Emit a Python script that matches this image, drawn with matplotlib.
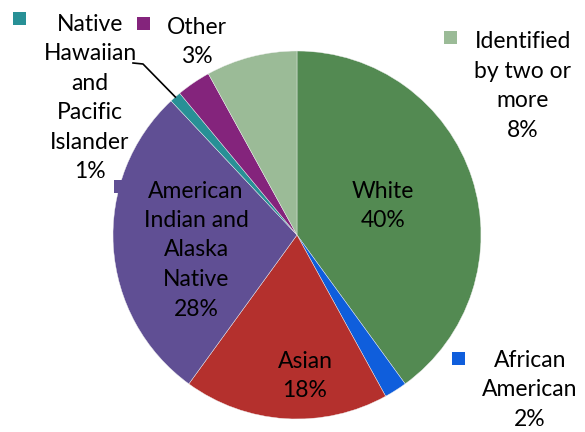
import matplotlib
matplotlib.use("Agg")
import matplotlib.pyplot as plt
import numpy as np

categories = ["White", "African\nAmerican", "Asian", "American\nIndian and\nAlaska\nNative",
              "Native\nHawaiian\nand\nPacific\nIslander", "Other", "Identified\nby two or\nmore"]
values = [40, 2, 18, 28, 1, 3, 8]
colors = ["#538A52", "#0F5EDC", "#B4302D", "#604F94", "#289096", "#84247C", "#9BBB97"]

plt.rcParams['font.family'] = ['Lato', 'DejaVu Sans']

W, H = 585, 432
fig = plt.figure(figsize=(W / 100, H / 100), dpi=100)
ax = fig.add_axes([0, 0, 1, 1])

cx, cy, R = 297, H - 235, 184
wedges, _ = ax.pie(values, colors=colors, startangle=90, counterclock=False,
                   center=(cx, cy), radius=R, frame=True,
                   wedgeprops=dict(linewidth=0.3, edgecolor='#f0f0f0'))
ax.set_xlim(0, W)
ax.set_ylim(0, H)
ax.set_aspect('equal')
ax.axis('off')

fs = 16.5
ls = 1.5

def lab(i, x, y, key=None):
    txt = f"{categories[i]}\n{values[i]}%"
    ax.text(x, H - y, txt, ha='center', va='center', fontsize=fs,
            linespacing=ls, color='black', zorder=5)
    if key is not None:
        kx, ky = key
        ax.add_patch(plt.Rectangle((kx, H - ky - 13), 13, 13, color=colors[i],
                                   zorder=4, linewidth=0))

# inside labels
lab(0, 383, 206)
lab(2, 305, 376)
lab(3, 196, 250, key=(114, 180))
# outside labels
lab(1, 530, 390, key=(452, 352))
lab(4, 90, 98, key=(13, 12))
lab(5, 197, 42, key=(137, 17))
lab(6, 523, 86, key=(444, 31))

# leader line for Native Hawaiian
w = wedges[4]
mid = np.deg2rad((w.theta1 + w.theta2) / 2)
ex, ey = cx + R * np.cos(mid), cy + R * np.sin(mid)
ax.plot([133, 143, ex], [H - 63, H - 64, ey], color='black', lw=1.2, zorder=6)

fig.savefig("out.png", dpi=100)
